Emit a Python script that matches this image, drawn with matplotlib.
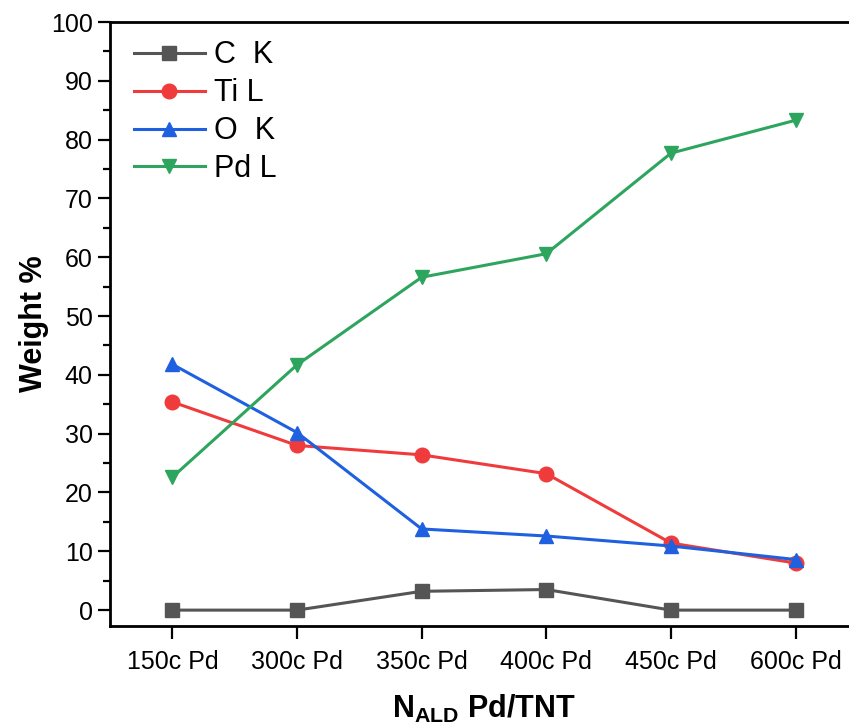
import matplotlib
matplotlib.use("Agg")
import matplotlib.pyplot as plt

plt.rcParams['font.family'] = ['Liberation Sans', 'DejaVu Sans']
plt.rcParams['mathtext.fontset'] = 'custom'
plt.rcParams['mathtext.rm'] = 'Liberation Sans:bold'
plt.rcParams['mathtext.bf'] = 'Liberation Sans:bold'

# data
samples = ['150c Pd', '300c Pd', '350c Pd', '400c Pd', '450c Pd', '600c Pd']
c_k = [0.0, 0.0, 3.2, 3.5, 0.0, 0.0]
ti_l = [35.4, 28.0, 26.4, 23.2, 11.4, 8.0]
o_k = [41.8, 30.2, 13.8, 12.6, 10.9, 8.6]
pd_l = [22.6, 41.7, 56.6, 60.6, 77.7, 83.3]

series = [
    ('C  K', c_k, '#555555', 's'),
    ('Ti L', ti_l, '#ef3b3b', 'o'),
    ('O  K', o_k, '#1f60e0', '^'),
    ('Pd L', pd_l, '#2ea55e', 'v'),
]

fig = plt.figure(figsize=(8.49, 7.24), dpi=100)
ax = fig.add_axes([110 / 849, 98 / 724, 748 / 849, 604 / 724])

x = list(range(len(samples)))
for label, vals, col, mk in series:
    ax.plot(x, vals, color=col, marker=mk, markersize=10.5, linewidth=2.2, label=label)

ax.set_xlim(-0.5, 5.5)
ax.set_ylim(-2.7, 100)
ax.set_xticks(x)
ax.set_xticklabels(samples)
ax.set_yticks(range(0, 101, 10))
ax.set_yticks(range(5, 100, 10), minor=True)
ax.tick_params(axis='both', which='major', direction='out', length=9, width=1.6, labelsize=18)
ax.tick_params(axis='y', which='minor', direction='out', length=5, width=1.6)
ax.tick_params(axis='x', pad=8)
for sp in ax.spines.values():
    sp.set_linewidth(2)

ax.set_ylabel('Weight %', fontsize=22, fontweight='bold', labelpad=1)
ax.set_xlabel(r'$\mathregular{N_{ALD}}$ Pd/TNT', fontsize=22, fontweight='bold', labelpad=14)

ax.legend(loc='upper left', frameon=False, fontsize=22, handlelength=2.3,
          handletextpad=0.3, labelspacing=0.26, borderaxespad=0.3,
          borderpad=0.3, bbox_to_anchor=(0.008, 1.0))

fig.savefig('out.png', dpi=100)
